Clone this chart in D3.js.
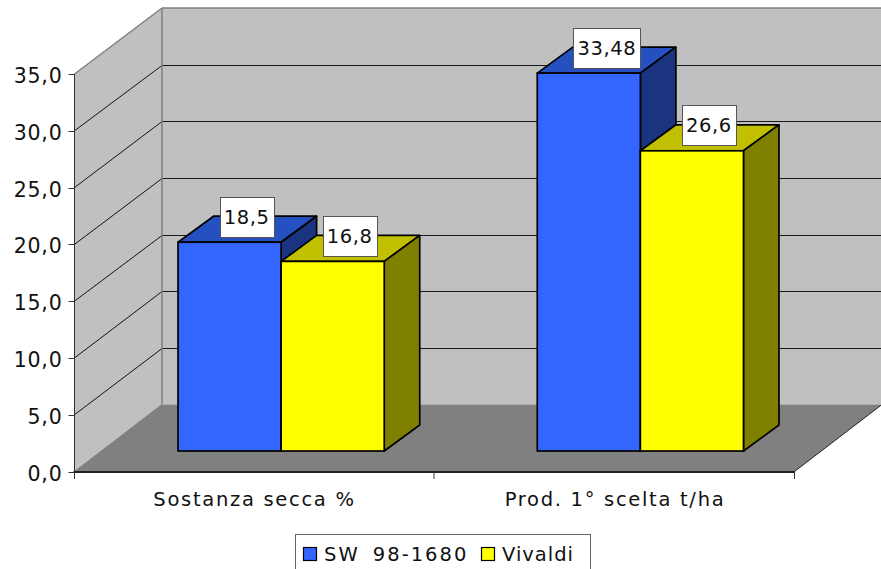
<!DOCTYPE html>
<html><head><meta charset="utf-8">
<script src="https://cdnjs.cloudflare.com/ajax/libs/d3/7.8.5/d3.min.js"></script>
<style>html,body{margin:0;padding:0;background:#fff}svg{display:block}text{font-family:"DejaVu Sans",Verdana,sans-serif;fill:#111}</style>
</head><body><div id="c"></div>
<script>
const categories = ["Sostanza secca %", "Prod. 1° scelta t/ha"];
const seriesNames = ["SW 98-1680", "Vivaldi"];
const sw = [18.5, 33.48];
const vivaldi = [16.8, 26.6];
const labels = [["18,5", "33,48"], ["16,8", "26,6"]];
const ticks = [0, 5, 10, 15, 20, 25, 30, 35];
const colors = [{f:"#3366ff", t:"#2450c0", s:"#1a3480"}, {f:"#ffff00", t:"#c0c000", s:"#808000"}];

const W = 881, H = 569;
const svg = d3.select("#c").append("svg").attr("width", W).attr("height", H);
const line = (x1,y1,x2,y2,c,w) => svg.append("line").attr("x1",x1).attr("y1",y1).attr("x2",x2).attr("y2",y2).attr("stroke",c).attr("stroke-width",w||1);
const poly = (pts,f,st,w) => svg.append("polygon").attr("points",pts.map(p=>p.join(",")).join(" ")).attr("fill",f).attr("stroke",st||"none").attr("stroke-width",w||0).attr("stroke-linejoin","round");

const x0 = 74.5, x1 = 794.5, dx = 87.5;
const yFront = d3.scaleLinear().domain([0,35]).range([471.5,74]);
const yBack = d3.scaleLinear().domain([0,35]).range([404.5,8]);
const hBar = d3.scaleLinear().domain([0,35]).range([0,395]);
const xBand = d3.scaleBand().domain(categories).range([73.5,792]).paddingInner(.426).paddingOuter(.213);
const xSeries = d3.scaleBand().domain(seriesNames).range([0,xBand.bandwidth()]);

// walls and floor
poly([[x0,yFront(0)],[x0,yFront(35)],[x0+dx,yBack(35)],[x0+dx,yBack(0)]],"#c0c0c0");
poly([[x0+dx,yBack(0)],[x0+dx,yBack(35)],[W,yBack(35)],[W,yBack(0)]],"#c0c0c0");
poly([[x0,yFront(0)],[x1,yFront(0)],[x1+dx,yBack(0)],[x0+dx,yBack(0)]],"#808080");
ticks.slice(1,-1).forEach(v=>{
  const yb = Math.round(yBack(v))+.5;
  line(x0,yFront(v),x0+dx,yb,"#111");
  line(x0+dx,yb,W,yb,"#1a1a1a");
});
line(x0,yFront(35),x0+dx,yBack(35),"#808080",1.5);
line(x0+dx,8,W,8,"#808080",1.5);
line(x0+dx,8,x0+dx,yBack(0),"#808080",1.5);
line(x0,yFront(0),x0+dx,yBack(0),"#808080",1);
line(x1,yFront(0),x1+dx,yBack(0),"#222",1);

// axes
line(x0,yFront(35),x0,yFront(0),"#333",1);
line(x0-1,472,x1+.5,472,"#222",2);
ticks.forEach(v=>{
  const y = Math.round(yFront(v))+.5;
  line(x0-6,y,x0,y,"#333");
  svg.append("text").attr("x",62.5).attr("y",y+8).attr("text-anchor","end")
    .attr("font-size",20.5).attr("letter-spacing",.8).text(d3.format(".1f")(v).replace(".",","));
});
[x0,(x0+x1)/2-.5,x1].forEach(x=>line(x,472,x,479,"#333"));
categories.forEach((c,i)=>{
  svg.append("text").attr("x",[254.5,615][i]).attr("y",506).attr("text-anchor","middle")
    .attr("font-size",19.5).attr("letter-spacing",1.7).text(c);
});

// bars
const baseY = 451, ox = 28, ddx = 35.5, ddy = 26;
const data = [sw, vivaldi];
categories.forEach((c,ci)=>{
  seriesNames.forEach((n,si)=>{
    const xl = xBand(c)+ox+xSeries(n), xr = xl+xSeries.bandwidth();
    const top = baseY-hBar(data[si][ci]);
    const col = colors[si];
    poly([[xl,top],[xr,top],[xr+ddx,top-ddy],[xl+ddx,top-ddy]],col.t,"#000",1.7);
    poly([[xr,top],[xr+ddx,top-ddy],[xr+ddx,baseY-ddy],[xr,baseY]],col.s,"#000",1.7);
    svg.append("rect").attr("x",xl).attr("y",top).attr("width",xr-xl).attr("height",baseY-top)
      .attr("fill",col.f).attr("stroke","#000").attr("stroke-width",1.7);
  });
  seriesNames.forEach((n,si)=>{
    const t = labels[si][ci];
    const xl = xBand(c)+ox+xSeries(n), cx = xl+xSeries.bandwidth()/2+(t.length>4?18:17);
    const top = baseY-hBar(data[si][ci]), cy = top-25.5;
    const w = t.length>4?67:54, h = 40;
    svg.append("rect").attr("x",Math.round(cx-w/2)+.5).attr("y",Math.round(cy-h/2)+.5).attr("width",w).attr("height",h)
      .attr("fill","#fff").attr("stroke","#555").attr("stroke-width",1);
    svg.append("text").attr("x",cx).attr("y",cy+7).attr("text-anchor","middle").attr("font-size",19.5).attr("letter-spacing",.6).text(t);
  });
});

// legend
svg.append("rect").attr("x",295.5).attr("y",534.5).attr("width",295).attr("height",40).attr("fill","#fff").attr("stroke","#666");
[[303,324,2,5],[481,502,1,0]].forEach(([sx,tx,ls,ws],i)=>{
  svg.append("rect").attr("x",sx+.5).attr("y",547.5).attr("width",13).attr("height",13)
    .attr("fill",colors[i].f).attr("stroke","#000").attr("stroke-width",1.2);
  svg.append("text").attr("x",tx).attr("y",561).attr("font-size",19.5).attr("letter-spacing",ls).attr("word-spacing",ws).text(seriesNames[i]);
});
</script></body></html>
